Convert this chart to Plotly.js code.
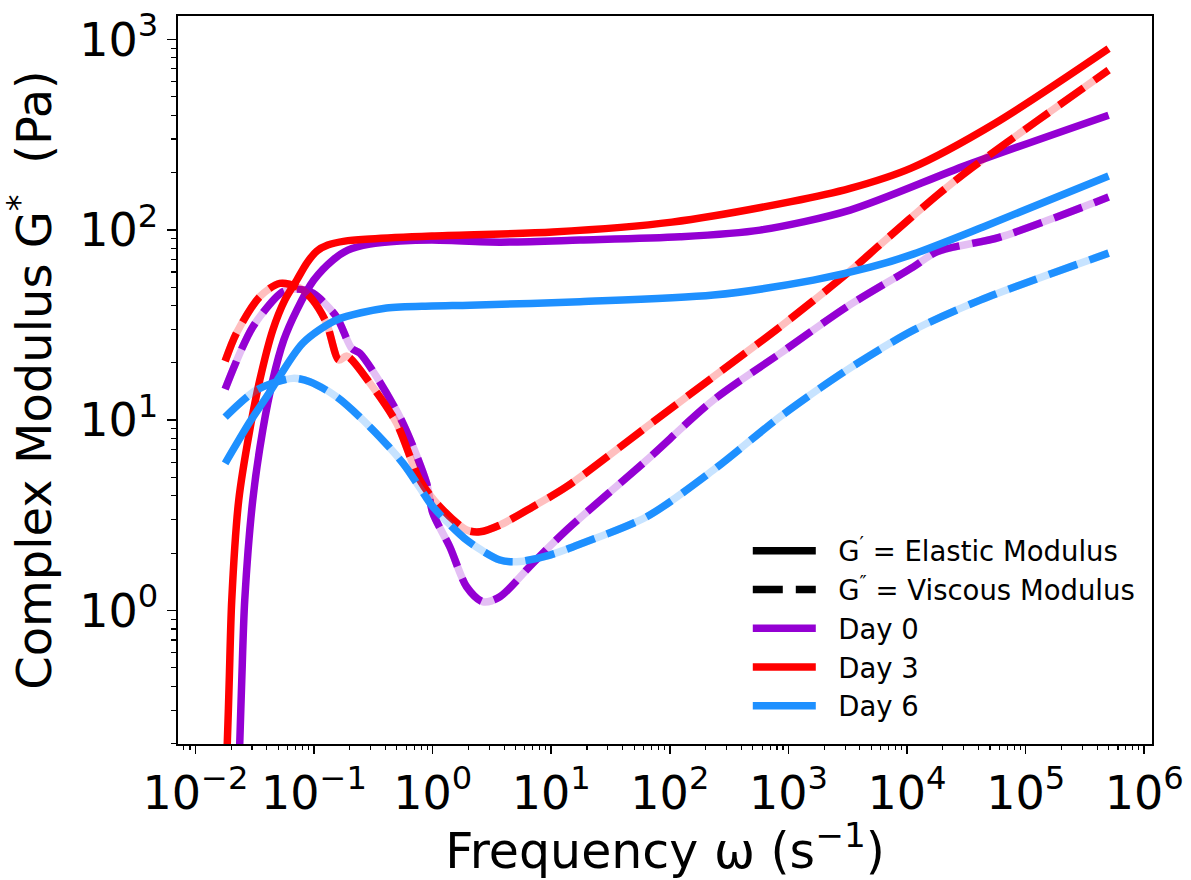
<!DOCTYPE html>
<html>
<head>
<meta charset="utf-8">
<script src="https://cdn.plot.ly/plotly-3.0.1.min.js"></script>
<style>
  html, body { margin: 0; padding: 0; background: #ffffff; }
  #chart { width: 1191px; height: 880px; }
</style>
</head>
<body>
<div id="chart"></div>
<script>
// ---------------- data ----------------
// Day 0
const day0_Gp_freq = [0.02341, 0.02363, 0.02458, 0.02605, 0.03043, 0.03696, 0.04488, 0.05557, 0.07154, 0.09954, 0.1440, 0.1927, 0.2956, 0.5294, 0.985, 3.69, 17.46, 121.8, 576, 3311, 31920, 500000];
const day0_Gp      = [0.164, 0.199, 0.4315, 1.135, 3.805, 8.87, 16.24, 26.35, 37.87, 54.43, 69.34, 78.23, 84.13, 87.24, 88.3, 86.1, 88.3, 91.9, 99.6, 126.9, 218.6, 400];
const day0_Gpp_freq = [0.0178, 0.03043, 0.0545, 0.0711, 0.0976, 0.1547, 0.207, 0.243, 0.3365, 0.561, 0.889, 1.004, 1.397, 1.933, 2.652, 3.69, 7.01, 13.48, 63.8, 232.6, 849, 3105, 11320, 17830, 60950, 500000];
const day0_Gpp      = [14.57, 30.9, 47.3, 48.8, 46.5, 34.9, 23.9, 22.5, 16.9, 9.66, 4.67, 3.25, 2.156, 1.333, 1.112, 1.182, 1.776, 2.648, 6.17, 12.75, 22.4, 39.4, 63.9, 76.6, 91.6, 148.5];

// Day 3
const day3_Gp_freq = [0.01819, 0.01855, 0.01928, 0.02024, 0.02318, 0.02871, 0.03486, 0.04488, 0.05665, 0.07154, 0.08687, 0.1055, 0.1306, 0.1817, 0.2956, 0.985, 10.33, 104.2, 1051, 3311, 10820, 55300, 500000];
const day3_Gp      = [0.164, 0.199, 0.4315, 1.135, 3.805, 8.87, 16.24, 29.73, 42.74, 54.43, 66.86, 77.3, 83.1, 87.2, 89.37, 92.7, 97.3, 109.7, 140.5, 165.0, 210.9, 363, 895];
const day3_Gpp_freq = [0.0178, 0.0222, 0.03486, 0.0514, 0.0759, 0.0976, 0.1274, 0.1618, 0.189, 0.2954, 0.496, 0.78, 1.151, 1.933, 2.503, 3.69, 7.01, 13.48, 63.8, 232.6, 849, 3311, 5960, 18300, 35000, 126000, 500000];
const day3_Gpp      = [20.43, 28.7, 44.5, 52.3, 49.4, 42.7, 32.4, 20.7, 21.7, 15.66, 9.66, 4.85, 3.51, 2.648, 2.594, 2.812, 3.51, 4.47, 9.23, 16.9, 30.9, 60.8, 83.8, 153.5, 210.9, 375, 690];

// Day 6
const day6_Gp_freq = [0.0178, 0.0287, 0.04233, 0.0804, 0.1547, 0.4087, 0.985, 2.06, 17.46, 232.6, 1622, 4900, 11250, 43800, 500000];
const day6_Gp      = [5.93, 9.77, 14.05, 25.4, 33.6, 38.8, 39.8, 40.2, 41.9, 45.4, 54.4, 63.6, 74.5, 103.5, 191.5];
const day6_Gpp_freq = [0.0178, 0.0327, 0.0662, 0.0921, 0.1547, 0.2954, 0.561, 0.889, 1.004, 1.933, 3.69, 5.11, 9.75, 18.51, 63.8, 232.6, 849, 3105, 11320, 41360, 500000];
const day6_Gpp      = [10.38, 14.39, 16.58, 15.91, 13.27, 9.23, 5.95, 3.90, 3.51, 2.346, 1.842, 1.804, 1.957, 2.262, 3.11, 5.47, 10.42, 18.33, 29.7, 42.7, 75.4];

// labels
const dayNames = ["Day 0", "Day 3", "Day 6"];
const modulusNames = ["G<sup>′</sup> = Elastic Modulus", "G<sup>″</sup> = Viscous Modulus"];
const xTickVals = [1e-2, 1e-1, 1e0, 1e1, 1e2, 1e3, 1e4, 1e5, 1e6];
const xTickText = ["10<sup>−2</sup>", "10<sup>−1</sup>", "10<sup>0</sup>", "10<sup>1</sup>", "10<sup>2</sup>", "10<sup>3</sup>", "10<sup>4</sup>", "10<sup>5</sup>", "10<sup>6</sup>"];
const yTickVals = [1e0, 1e1, 1e2, 1e3];
const yTickText = ["10<sup>0</sup>", "10<sup>1</sup>", "10<sup>2</sup>", "10<sup>3</sup>"];

// ---------------- styling ----------------
const colors = ["#9400D3", "#FF0000", "#1E90FF"];
const lightColors = ["rgba(148,0,211,0.25)", "rgba(255,0,0,0.25)", "rgba(30,144,255,0.25)"];
const LW = 7.5;
const DASH = "30px,13px";
const FONT = "DejaVu Sans, Liberation Sans, sans-serif";
const PAD = "\u00A0\u00A0";

const series = [
  { gpx: day0_Gp_freq, gp: day0_Gp, gppx: day0_Gpp_freq, gpp: day0_Gpp },
  { gpx: day3_Gp_freq, gp: day3_Gp, gppx: day3_Gpp_freq, gpp: day3_Gpp },
  { gpx: day6_Gp_freq, gp: day6_Gp, gppx: day6_Gpp_freq, gpp: day6_Gpp }
];

const traces = [];
series.forEach((s, i) => {
  traces.push({ x: s.gpx, y: s.gp, mode: "lines", showlegend: false, hoverinfo: "skip",
    line: { color: colors[i], width: LW, shape: "spline", smoothing: 0.8 } });
  traces.push({ x: s.gppx, y: s.gpp, mode: "lines", showlegend: false, hoverinfo: "skip",
    line: { color: lightColors[i], width: LW, shape: "spline", smoothing: 0.8 } });
  traces.push({ x: s.gppx, y: s.gpp, mode: "lines", showlegend: false, hoverinfo: "skip",
    line: { color: colors[i], width: LW, dash: DASH, shape: "spline", smoothing: 0.8 } });
});

// legend entries
traces.push({ x: [null], y: [null], mode: "lines", name: PAD + modulusNames[0], line: { color: "#000000", width: LW } });
traces.push({ x: [null], y: [null], mode: "lines", name: PAD + modulusNames[1], line: { color: "#000000", width: LW, dash: DASH } });
dayNames.forEach((d, i) => {
  traces.push({ x: [null], y: [null], mode: "lines", name: PAD + d, line: { color: colors[i], width: LW } });
});

// minor ticks (decoration of the log axes)
function minorTicks(lo, hi) {
  const v = [];
  for (let e = lo; e <= hi; e++) for (let m = 2; m <= 9; m++) v.push(m * Math.pow(10, e));
  return v;
}

const layout = {
  width: 1191, height: 880,
  margin: { l: 178, r: 39, t: 16, b: 136, pad: 0 },
  paper_bgcolor: "#ffffff", plot_bgcolor: "#ffffff",
  font: { family: FONT, color: "#000000", size: 26 },
  showlegend: true,
  legend: {
    x: 0.585, y: 0.299, xanchor: "left", yanchor: "top",
    bgcolor: "rgba(255,255,255,0)", borderwidth: 0,
    font: { family: FONT, size: 27.5, color: "#000000" },
    itemwidth: 63, tracegroupgap: 0
  },
  xaxis: {
    type: "log", range: [-2.147, 6.065],
    showgrid: false, zeroline: false,
    showline: true, linecolor: "#000000", linewidth: 1.6, mirror: true,
    ticks: "outside", ticklen: 8, tickwidth: 1.6, tickcolor: "#000000",
    tickvals: xTickVals, ticktext: xTickText,
    tickfont: { family: FONT, size: 46, color: "#000000" },
    minor: { tickvals: minorTicks(-3, 5), ticks: "outside", ticklen: 4.5, tickwidth: 1.1, tickcolor: "#000000", showgrid: false },
    title: { text: "Frequency ω (s<sup>−1</sup>)", font: { family: FONT, size: 49, color: "#000000" }, standoff: 16 }
  },
  yaxis: {
    type: "log", range: [-0.701, 3.123],
    showgrid: false, zeroline: false,
    showline: true, linecolor: "#000000", linewidth: 1.6, mirror: true,
    ticks: "outside", ticklen: 9, tickwidth: 1.6, tickcolor: "#000000",
    tickvals: yTickVals, ticktext: yTickText,
    tickfont: { family: FONT, size: 46, color: "#000000" },
    minor: { tickvals: minorTicks(-1, 3), ticks: "outside", ticklen: 5, tickwidth: 1.1, tickcolor: "#000000", showgrid: false },
    title: { text: "Complex Modulus G<sup>*</sup>  (Pa)", font: { family: FONT, size: 48, color: "#000000" }, standoff: 18 }
  }
};

Plotly.newPlot("chart", traces, layout, { staticPlot: true, displayModeBar: false });
</script>
</body>
</html>
